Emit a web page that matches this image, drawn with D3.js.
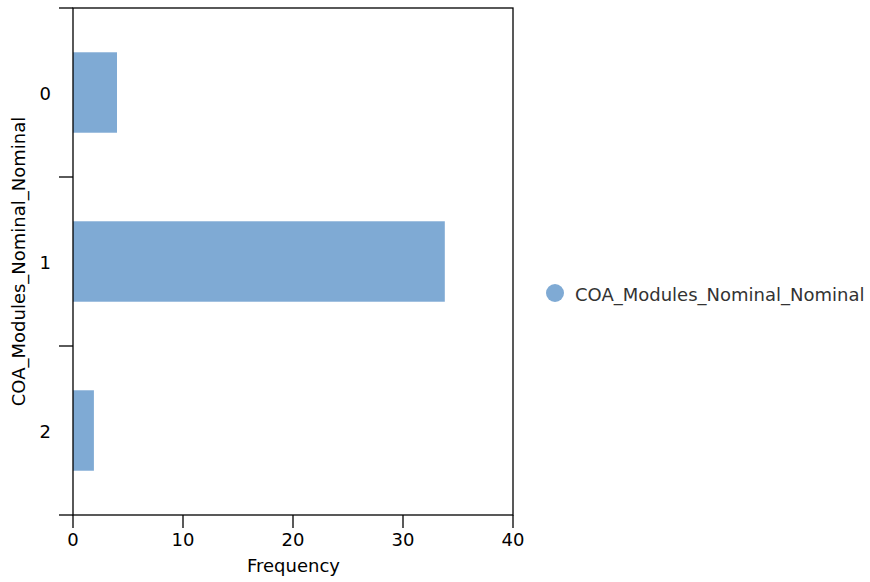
<!DOCTYPE html>
<html><head><meta charset="utf-8">
<script src="https://cdn.jsdelivr.net/npm/d3@7"></script>
<style>body{margin:0;background:#fff}svg{display:block}text{font-family:"DejaVu Sans",sans-serif}</style>
</head><body>
<svg id="c" width="870" height="582"></svg>
<script>
const categories = ["0", "1", "2"];
const values = [4, 33.8, 1.9];
const xTicks = [0, 10, 20, 30, 40];
const seriesName = "COA_Modules_Nominal_Nominal";
const xLabel = "Frequency";
const yLabel = "COA_Modules_Nominal_Nominal";
const color = "#7faad4";

const svg = d3.select("#c");
const L = 73, R = 513, T = 8, B = 515;
const x = d3.scaleLinear().domain([0, 40]).range([L, R]);
const y = d3.scaleBand().domain(categories).range([T, B]).padding(0);
const barH = y.bandwidth() * 0.476;

svg.selectAll("rect.bar").data(values).enter().append("rect")
  .attr("class", "bar")
  .attr("x", x(0))
  .attr("y", (d, i) => y(categories[i]) + (y.bandwidth() - barH) / 2)
  .attr("width", d => x(d) - x(0))
  .attr("height", barH)
  .attr("fill", color);

const g = svg.append("g").attr("stroke", "#000").attr("stroke-width", 1.3).attr("fill", "none");
g.append("rect").attr("x", L).attr("y", T).attr("width", R - L).attr("height", B - T);
const bounds = categories.map(c => y(c)).concat([B]);
g.selectAll("line.yt").data(bounds).enter().append("line")
  .attr("x1", L - 14).attr("x2", L).attr("y1", d => d).attr("y2", d => d);
g.selectAll("line.xt").data(xTicks).enter().append("line")
  .attr("x1", d => x(d)).attr("x2", d => x(d)).attr("y1", B).attr("y2", B + 13);

svg.selectAll("text.yl").data(categories).enter().append("text")
  .attr("x", 51).attr("y", d => y(d) + y.bandwidth() / 2 + 7)
  .attr("text-anchor", "end")
  .attr("font-size", 18).attr("fill", "#000").text(d => d);

svg.selectAll("text.xl").data(xTicks).enter().append("text")
  .attr("x", d => x(d)).attr("y", 546)
  .attr("text-anchor", "middle")
  .attr("font-size", 18).attr("fill", "#000").text(d => d);

svg.append("text").attr("x", (L + R) / 2 + 0.5).attr("y", 572)
  .attr("text-anchor", "middle").attr("font-size", 18).attr("fill", "#000").text(xLabel);

svg.append("text").attr("transform", `translate(25,${(T + B) / 2}) rotate(-90)`)
  .attr("text-anchor", "middle").attr("font-size", 18).attr("fill", "#000").text(yLabel);

svg.append("circle").attr("cx", 555).attr("cy", 293).attr("r", 9).attr("fill", color);
svg.append("text").attr("x", 575).attr("y", 301)
  .attr("font-size", 18).attr("fill", "#333").text(seriesName);
</script>
</body></html>
